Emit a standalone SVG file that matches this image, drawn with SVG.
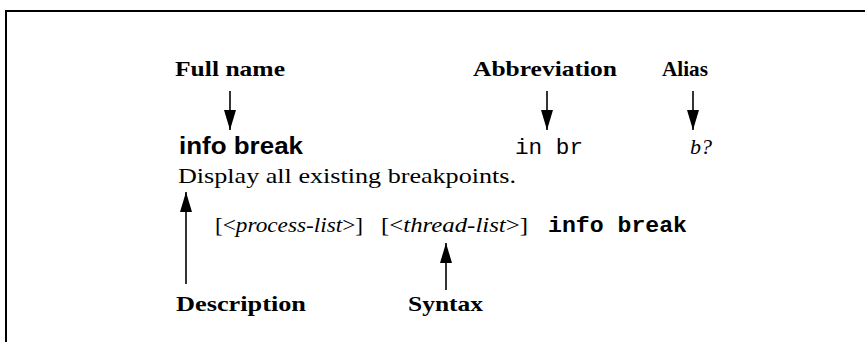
<svg xmlns="http://www.w3.org/2000/svg" width="865" height="342" viewBox="0 0 865 342">
<defs>
<style>
.lbl{font-family:"Liberation Serif",serif;font-weight:bold;font-size:22px;fill:#000}
.cmd{font-family:"Liberation Sans",Arial,sans-serif;font-weight:bold;font-size:24px;fill:#000}
.mono{font-family:"Liberation Mono","Courier New",monospace;font-size:22px;fill:#000}
.body{font-family:"Liberation Serif",serif;font-size:22px;fill:#000}
.it{font-style:italic}
.bm{font-family:"Liberation Mono","Courier New",monospace;font-weight:bold;font-size:22px;fill:#000}
.ln{stroke:#000;stroke-width:1.6;fill:none}
</style>
<marker id="ah" viewBox="0 0 20 12" refX="20" refY="6" markerWidth="20" markerHeight="12" markerUnits="userSpaceOnUse" orient="auto">
<path d="M0,0 L20,6 L0,12 Z" fill="#000"/>
</marker>
</defs>
<g id="frame">
<path d="M6,342 V11 H865" stroke="#000" stroke-width="2" fill="none"/>
</g>
<g id="label-fullname"><text class="lbl" x="175" y="76" textLength="110" lengthAdjust="spacingAndGlyphs">Full name</text></g>
<g id="label-abbreviation"><text class="lbl" x="473" y="76" textLength="144" lengthAdjust="spacingAndGlyphs">Abbreviation</text></g>
<g id="label-alias"><text class="lbl" x="662" y="76" textLength="46" lengthAdjust="spacingAndGlyphs">Alias</text></g>
<g id="cmd-name"><text class="cmd" x="179" y="154" textLength="124" lengthAdjust="spacingAndGlyphs">info break</text></g>
<g id="cmd-abbrev"><text class="mono" x="515" y="154" textLength="68" lengthAdjust="spacingAndGlyphs">in br</text></g>
<g id="cmd-alias"><text class="body it" x="690" y="154" textLength="22" lengthAdjust="spacingAndGlyphs">b?</text></g>
<g id="description"><text class="body" x="178" y="183" textLength="338" lengthAdjust="spacingAndGlyphs">Display all existing breakpoints.</text></g>
<g id="syntax">
<text class="body" x="215" y="232" textLength="148" lengthAdjust="spacingAndGlyphs">[&lt;<tspan class="it">process-list</tspan>&gt;]</text>
<text class="body" x="381" y="232" textLength="147" lengthAdjust="spacingAndGlyphs">[&lt;<tspan class="it">thread-list</tspan>&gt;]</text>
<text class="bm" x="548" y="232" textLength="139" lengthAdjust="spacingAndGlyphs">info break</text>
</g>
<g id="label-description"><text class="lbl" x="176" y="311" textLength="130" lengthAdjust="spacingAndGlyphs">Description</text></g>
<g id="label-syntax"><text class="lbl" x="408" y="311" textLength="75" lengthAdjust="spacingAndGlyphs">Syntax</text></g>
<g id="connectors">
<line class="ln" x1="230" y1="91" x2="230" y2="130" marker-end="url(#ah)"/>
<line class="ln" x1="547" y1="91" x2="547" y2="130" marker-end="url(#ah)"/>
<line class="ln" x1="693" y1="91" x2="693" y2="130" marker-end="url(#ah)"/>
<line class="ln" x1="186" y1="284" x2="186" y2="192" marker-end="url(#ah)"/>
<line class="ln" x1="446" y1="290" x2="446" y2="243" marker-end="url(#ah)"/>
</g>
</svg>
